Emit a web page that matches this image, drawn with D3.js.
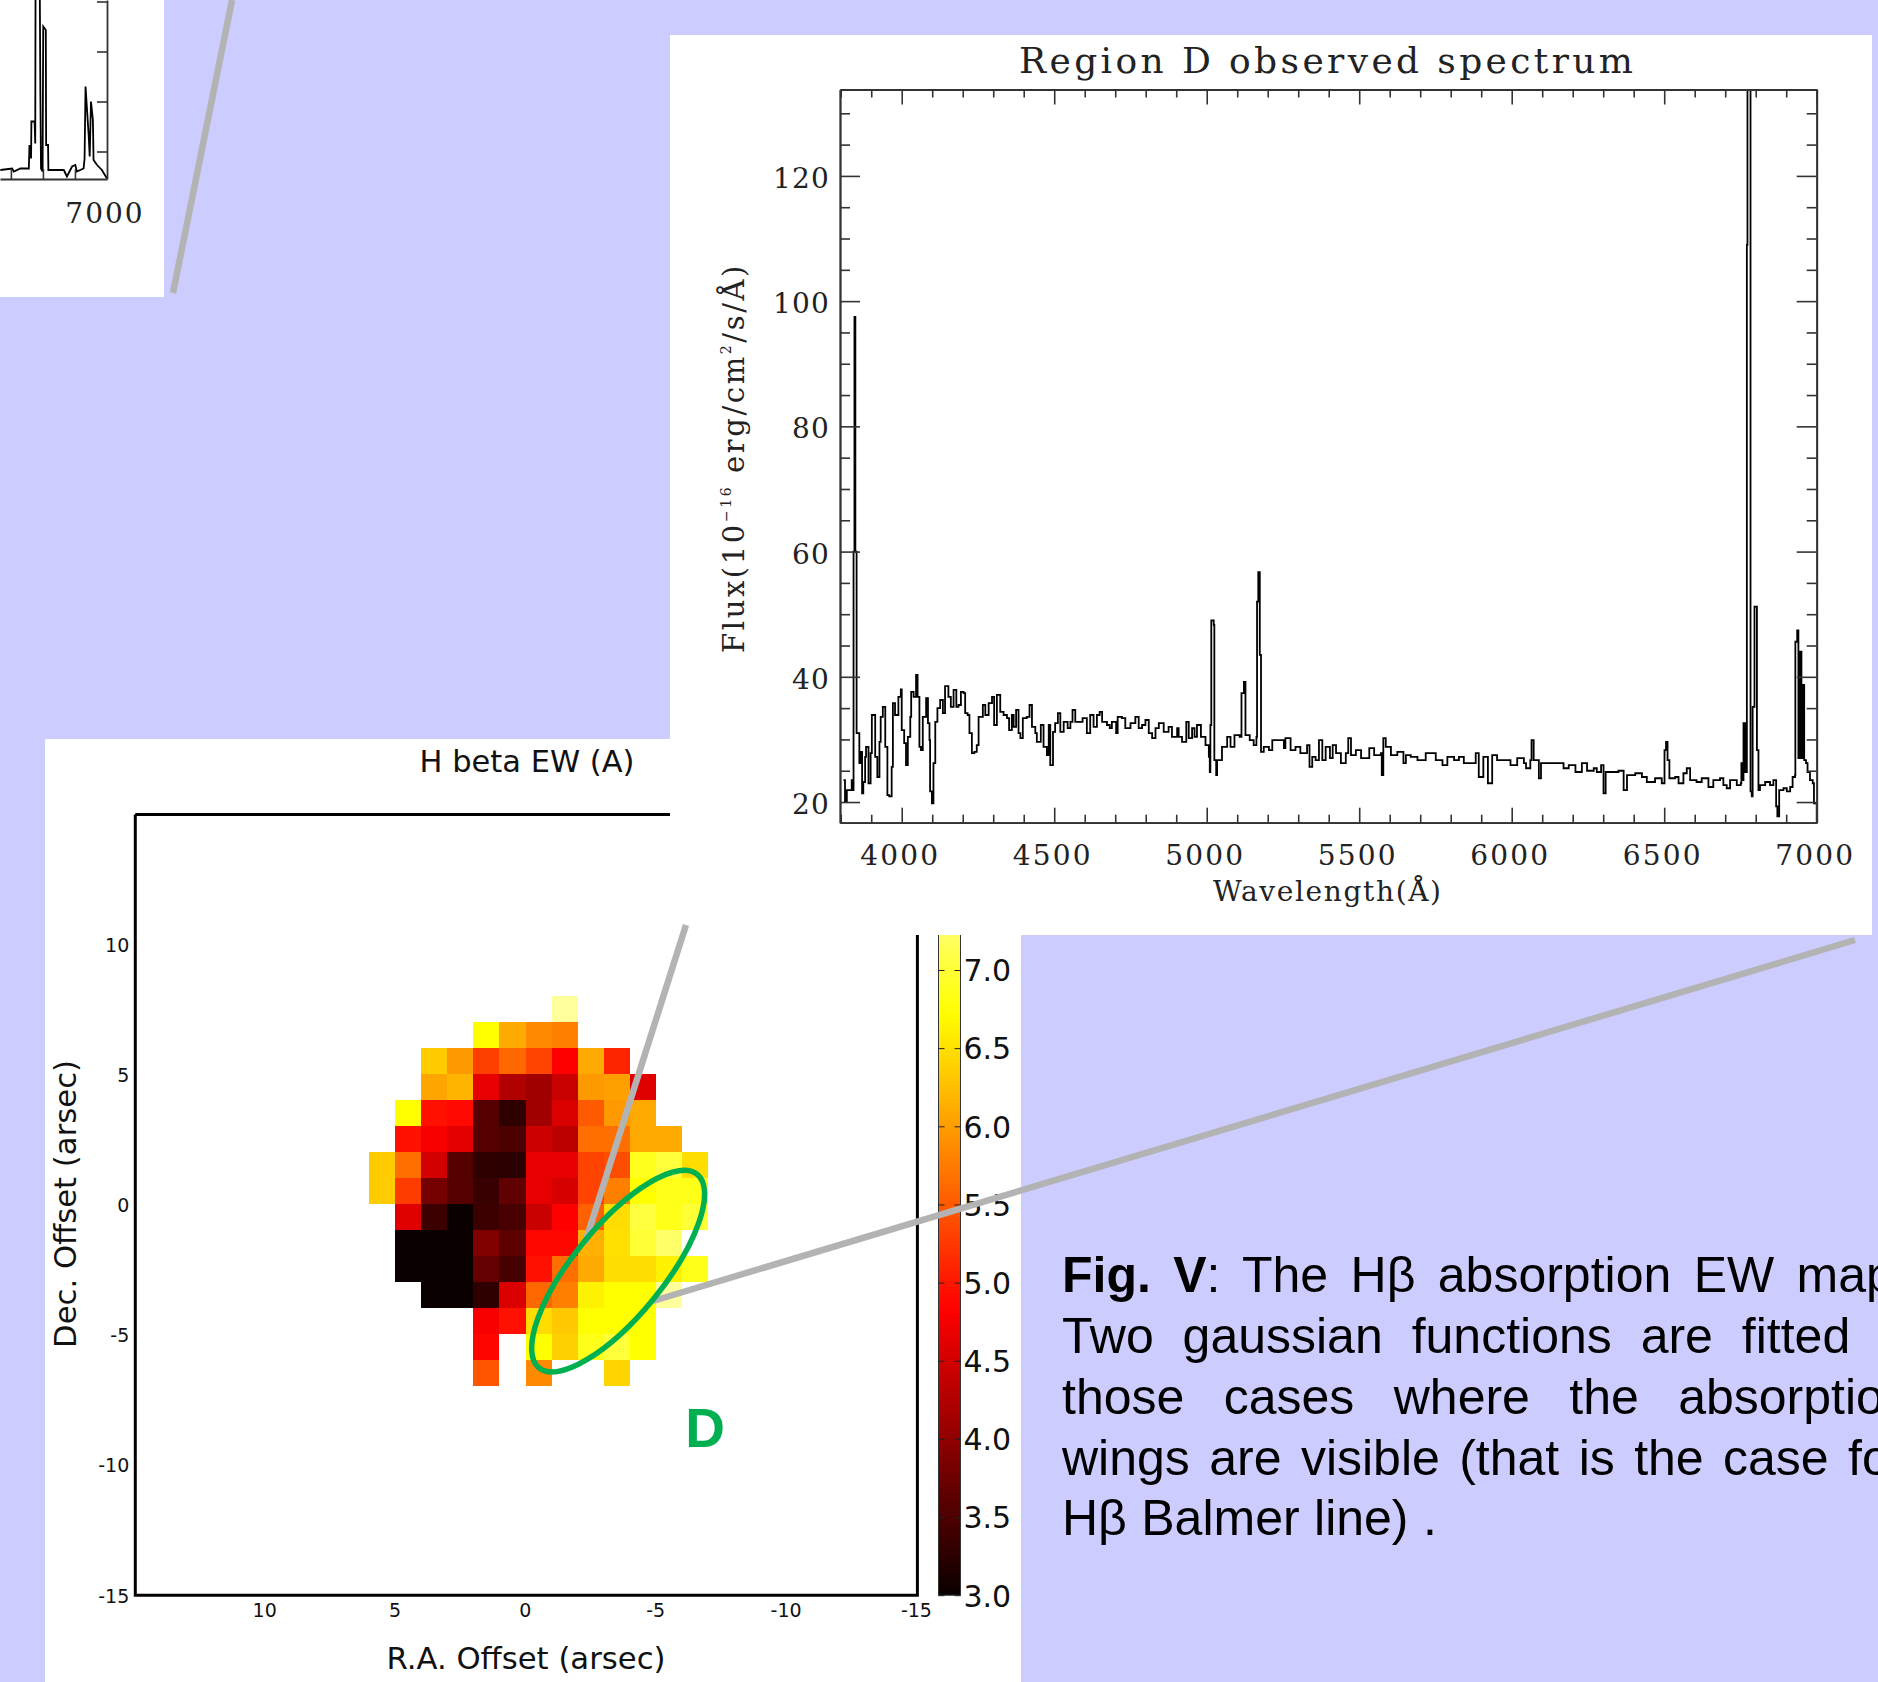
<!DOCTYPE html>
<html>
<head>
<meta charset="utf-8">
<script src="https://cdn.jsdelivr.net/npm/d3@7"></script>
<style>
html, body { margin: 0; padding: 0; background: #ccccff; overflow: hidden; }
svg { display: block; }
</style>
</head>
<body>
<div id="dataContainer"></div>
<script>
//region D spectrum
var waveA = [3809,3814,3820,3836,3841,3842,3845,3848,3852,3858,3861,3866,3870,3874,3880,3883,3891,3898,3902,3909,3913,3920,3927,3931,3938,3946,3953,3959,3967,3971,3978,3989,3997,4000,4008,4014,4020,4028,4031,4039,4047,4052,4058,4063,4069,4080,4086,4091,4093,4099,4104,4110,4117,4126,4135,4142,4153,4161,4170,4179,4186,4194,4203,4208,4216,4222,4230,4238,4246,4252,4266,4274,4285,4296,4303,4312,4323,4334,4345,4352,4361,4367,4375,4383,4389,4397,4410,4419,4427,4438,4443,4456,4465,4476,4482,4487,4496];
var fluxA = [23.5,20,21.9,23.5,21.9,60,97.5,60,31,31,26.2,28,21.4,23.2,27.2,28.8,23,27.8,33.9,33.9,27.2,24,29.6,33.6,35.2,28.8,21.1,20.9,25.6,35.8,33.9,36.8,38,31.5,29.4,25.9,30.4,33.6,37.6,36.8,40.3,36.8,28.8,28.3,33.6,36.6,32.6,29.9,21.7,19.8,26.2,32.8,35,36.3,34.2,38.5,36.8,35.2,37.9,35.2,35.5,37.6,37.4,34.2,33.9,31,27.8,28,29.1,33.6,35.5,33.9,35.8,36.8,32.3,37.1,34.4,33.9,33.4,31.5,33.9,32,34.7,31,30.2,33.4,33.6,35.5,32,31,29.6,32.3,28.8,27.5,32.3,25.9,31.2];
var waveB = [4503,4512,4520,4531,4544,4553,4560,4569,4586,4593,4607,4618,4629,4640,4649,4657,4673,4682,4689,4703,4708,4722,4733,4750,4766,4777,4788,4799,4810,4821,4832,4843,4859,4875,4886,4903,4908,4919,4933,4941,4952,4960,4968,4981,4996,5007,5010,5012,5015,5023,5025,5031,5034,5050,5067,5078,5091,5108,5114,5122,5127,5141,5154,5163,5165,5169,5174,5178,5187,5204,5215,5231,5253,5258,5275,5291,5307,5329,5337,5346,5357,5368,5379,5390,5404];
var fluxB = [32.6,34.2,31.2,32.8,31.8,32.8,34.7,32.8,32.8,33.4,31,33.9,32,33.9,34.4,32.8,32.3,31.8,32.8,31,33.6,33.4,31.8,32.6,33.6,31.8,32.3,33.1,31,30.2,31.8,32.6,31.2,32,30.4,31.8,30.4,29.6,32.8,30.2,31.8,30.4,32.3,30.4,29.1,27.2,24.8,32.3,49,48.3,26.7,24.3,26.7,28.8,30.4,28.8,30.7,30.4,37.4,39.2,30.7,29.9,29.1,30.4,52,56.7,43.5,28,28.8,28.3,29.9,29.9,28.6,30.2,28.3,28.8,27.8,29.1,25.6,27.2,26.7,29.9,26.7,28.8,27];
var waveC = [5413,5424,5440,5456,5464,5473,5489,5506,5516,5533,5549,5571,5574,5579,5587,5604,5625,5645,5653,5669,5691,5718,5734,5751,5773,5789,5811,5827,5843,5871,5882,5892,5907,5922,5936,5952,5974,5996,6018,6040,6047,6061,6065,6072,6089,6096,6116,6132,6154,6170,6187,6209,6230,6247,6269,6279,6293,6301,6308,6329,6350,6367,6378,6405,6427,6443,6470,6492,6501,6506,6511,6517,6536,6547,6563,6574,6585,6606,6623,6645,6661];
var fluxC = [29.1,27.8,26.2,27.8,30.2,27.5,28.3,27,27,28.6,27.5,27.8,24.3,30.2,28.8,27.5,28,26.2,27.5,27.2,26.7,27.8,27.8,26.7,25.9,27.2,26.7,27.2,26.2,26.2,27.8,24,27.2,23,27.5,26.7,26.7,25.9,27,26.2,25.4,26.7,29.9,26.7,23.8,26.2,26.2,26.2,26.2,25.4,25.9,24.8,26.2,25,25.4,24.8,25.9,21.4,24.8,24.8,25,21.9,24.3,24.6,24,23.2,23.8,23,28.3,29.6,26.7,23.8,24,23,24.6,25.4,23.5,23.2,23.8,22.4,23.5];
var waveD = [6683,6694,6705,6716,6727,6738,6751,6753,6757,6760,6765,6768,6770,6771,6773,6781,6783,6787,6790,6793,6796,6803,6804,6807,6809,6814,6831,6847,6858,6863,6867,6871,6877,6891,6902,6913,6921,6929,6930,6936,6940,6945,6950,6954,6959,6965,6970,6978,6987,6991,7000];
var fluxD = [23.8,22.7,22.2,23.5,23.5,22.7,23,26.2,23.5,32.6,24.8,32.6,24.8,109,134,134,21.7,20.9,35.2,35.2,51.2,51.2,28.3,28.3,21.9,22.7,23.2,22.7,23.5,23.5,19.3,17.7,21.9,22.2,21.7,22.4,24,24.3,45.6,47.4,27,44,27,38.7,26.7,26.2,24.8,23.5,23,19.8,16.9];

//tick values of the spectrum
var waveMajor = [4000,4500,5000,5500,6000,6500,7000];
var waveMinor = [3800,3900,4100,4200,4300,4400,4600,4700,4800,4900,5100,5200,5300,5400,5600,5700,5800,5900,6100,6200,6300,6400,6600,6700,6800,6900];
var fluxMajor = [20,40,60,80,100,120];
var fluxMinor = [25,30,35,45,50,55,65,70,75,85,90,95,105,110,115,125,130];

//the piece of the earlier spectrum at the top left corner
var insetWave = [6667,6704,6709,6730,6756,6758,6763,6764,6774,6776,6777,6790,6792,6794,6799,6800,6801,6809,6810,6816,6817,6865,6875,6891,6901,6906,6927,6930,6933,6943,6946,6950,6956,6958,6969,6984,7000];
var insetFlux = [16.3,16.6,16,16.6,16.6,21.3,18.6,26,26,21.6,55,55,31.6,16.6,16,31.6,45,44.3,21.3,21.3,16.3,16.3,15,17,17.3,16,16.6,18.6,33,23,19,30,26.3,18.3,17.3,16.3,14.6];
var insetFluxTicks = [20,30,40,50];
var insetWaveTicks = [6700,6800,6900];

//H beta EW map, left edge of each column and top edge of each row
var raEdges = [6,5,4,3,2,1,0,-1,-2,-3,-4,-5,-6];
var decEdges = [8,7,6,5,4,3,2,1,0,-1,-2,-3,-4,-5,-6];
var ewRows = [
	[null,null,null,null,null,null,null,7.5,null,null,null,null,null],
	[null,null,null,null,6.73,6.1,5.85,5.78,null,null,null,null,null],
	[null,null,6.35,5.97,5.3,5.6,5.33,4.83,6.1,5.1,null,null,null],
	[null,null,6.06,6.18,4.65,4.25,4.12,4.42,5.97,6.02,4.6,null,null],
	[null,6.73,4.95,4.9,3.56,3.28,4.12,4.55,5.5,5.97,6.08,null,null],
	[null,4.95,4.78,4.63,3.56,3.5,4.45,4.32,5.66,5.66,6.1,6.1,null],
	[6.35,5.66,4.5,3.56,3.28,3.25,4.65,4.65,5.33,5.4,6.88,7.03,6.48],
	[6.35,5.28,3.8,3.56,3.34,3.65,4.65,4.53,5.33,5.78,6.73,6.85,6.85],
	[null,4.6,3.38,3,3.38,3.47,4.42,4.83,5.55,6.48,7.05,6.85,7],
	[null,3,3,3,3.88,3.62,4.88,4.88,6.14,6.5,7,7.25,null],
	[null,3,3,3,3.68,3.44,4.95,5.66,6.1,6.48,6.48,6.63,6.85],
	[null,null,3,3,3.28,4.55,5.6,5.78,6.63,6.73,6.73,7.5,null],
	[null,null,null,null,4.78,4.95,6.48,6.32,6.73,6.73,6.73,null,null],
	[null,null,null,null,4.87,null,6.73,6.38,6.85,7.03,6.73,null,null],
	[null,null,null,null,5.46,null,5.85,null,null,6.42,null,null,null]
];
var mapTicks = [10,5,0,-5,-10,-15];
var mapYTicks = [10,5,0,-5,-10,-15];
var barTicks = [3,3.5,4,4.5,5,5.5,6,6.5,7];

//caption, one entry per line
var captionLines = [
	{ws: 8.5, parts: [["Fig. V", "bold"], [": The Hβ absorption EW map", "normal"]]},
	{ws: 15, parts: [["Two gaussian functions are fitted", "normal"]]},
	{ws: 25.5, parts: [["those cases where the absorption", "normal"]]},
	{ws: 5.5, parts: [["wings are visible (that is the case for", "normal"]]},
	{ws: 0.5, parts: [["Hβ Balmer line) .", "normal"]]}
];

var svg = d3.select("#dataContainer").append("svg")
	.attr("width", 1878)
	.attr("height", 1682);

svg.append("rect").attr("width", 1878).attr("height", 1682).attr("fill", "#ccccff");

//the matplotlib "hot" colours between 3 and 8
var hot = d3.scaleLinear()
	.domain([3, 4.83, 6.73, 8])
	.range(["#0a0000", "#ff0000", "#ffff00", "#ffffff"])
	.clamp(true);

//---------- map panel
svg.append("rect").attr("x", 45).attr("y", 739).attr("width", 976).attr("height", 943).attr("fill", "#fff");

var mx = d3.scaleLinear().domain([15, -15]).range([135.3, 917.4]);
var my = d3.scaleLinear().domain([15, -15]).range([814.4, 1595.2]);

var cells = [];
ewRows.forEach(function(row, i) {
	row.forEach(function(v, j) {
		if (v !== null) cells.push({ra: raEdges[j], dec: decEdges[i], v: v});
	});
});

svg.append("g").attr("transform", "translate(-0.8,-0.8)").selectAll("rect")
	.data(cells)
	.enter().append("rect")
	.attr("x", function(d) { return mx(d.ra); })
	.attr("y", function(d) { return my(d.dec); })
	.attr("width", function(d) { return mx(d.ra - 1) - mx(d.ra); })
	.attr("height", function(d) { return my(d.dec - 1) - my(d.dec); })
	.attr("fill", function(d) { return hot(d.v); })
	.attr("shape-rendering", "crispEdges");

var mapSans = "'DejaVu Sans', sans-serif";

var mapBottom = svg.append("g")
	.attr("transform", "translate(-1.5," + my(-15) + ")")
	.call(d3.axisBottom(mx).tickValues(mapTicks).tickSize(0).tickPadding(8).tickFormat(String));
var mapLeft = svg.append("g")
	.attr("transform", "translate(" + mx(15) + ",0.8)")
	.call(d3.axisLeft(my).tickValues(mapYTicks).tickSize(0).tickPadding(6).tickFormat(String));
[mapBottom, mapLeft].forEach(function(a) {
	a.select(".domain").remove();
	a.selectAll("text").attr("font-family", mapSans).attr("font-size", 19).attr("fill", "#111");
});

//frame of the map
svg.append("path")
	.attr("d", d3.line()([[mx(15), my(15)], [mx(-15), my(15)], [mx(-15), my(-15)], [mx(15), my(-15)], [mx(15), my(15)]]))
	.attr("fill", "none").attr("stroke", "#000").attr("stroke-width", 3);

svg.append("text").text("H beta EW (A)")
	.attr("x", 527).attr("y", 772).attr("text-anchor", "middle")
	.attr("font-family", mapSans).attr("font-size", 30.5).attr("fill", "#111");
svg.append("text").text("R.A. Offset (arsec)")
	.attr("x", 526).attr("y", 1668.5).attr("text-anchor", "middle")
	.attr("font-family", mapSans).attr("font-size", 30.7).attr("fill", "#111");
svg.append("text").text("Dec. Offset (arsec)")
	.attr("transform", "translate(76,1204) rotate(-90)").attr("text-anchor", "middle")
	.attr("font-family", mapSans).attr("font-size", 30.7).attr("fill", "#111");

//colour bar, the gradient stops come from the same colour scale
var by = d3.scaleLinear().domain([3, 7]).range([1595.2, 970]);
var grad = svg.append("linearGradient").attr("id", "hotBar")
	.attr("x1", 0).attr("y1", 1).attr("x2", 0).attr("y2", 0);
grad.selectAll("stop")
	.data(d3.range(3, 7.31, 0.1))
	.enter().append("stop")
	.attr("offset", function(d) { return (d - 3) / 4.3; })
	.attr("stop-color", function(d) { return hot(d); });
var barSide = d3.scaleLinear().domain([0, 1]).range([938.5, 960.5]);
svg.append("rect")
	.attr("x", barSide(0)).attr("y", by(7.3)).attr("width", barSide(1) - barSide(0)).attr("height", by(3) - by(7.3))
	.attr("fill", "url(#hotBar)").attr("stroke", "#333").attr("stroke-width", 1);
var barRight = svg.append("g")
	.attr("transform", "translate(" + barSide(1) + ",1.2)")
	.call(d3.axisRight(by).tickValues(barTicks).tickSize(-6).tickPadding(9).tickFormat(d3.format(".1f")));
barRight.select(".domain").remove();
barRight.selectAll("text").attr("font-family", mapSans).attr("font-size", 30).attr("fill", "#111").attr("x", 3);
barRight.selectAll("line").attr("stroke", "#222").attr("transform", "translate(0,-1.2)");
var barLeft = svg.append("g")
	.attr("transform", "translate(" + barSide(0) + ",0)")
	.call(d3.axisLeft(by).tickValues(barTicks).tickSize(-6).tickFormat(""));
barLeft.select(".domain").remove();
barLeft.selectAll("line").attr("stroke", "#222");

//---------- corner inset
svg.append("rect").attr("x", 0).attr("y", 0).attr("width", 164).attr("height", 297).attr("fill", "#fff");

var ix = d3.scaleLinear().domain([6666, 7000]).range([0, 107]);
var iy = d3.scaleLinear().domain([14.5, 50.3]).range([179, 0]);

svg.append("clipPath").attr("id", "insetClip").append("rect")
	.attr("x", 0).attr("y", 0).attr("width", 107).attr("height", 179);
svg.append("path")
	.datum(d3.zip(insetWave, insetFlux))
	.attr("clip-path", "url(#insetClip)")
	.attr("d", d3.line().x(function(d) { return ix(d[0]); }).y(function(d) { return iy(d[1]); }))
	.attr("fill", "none").attr("stroke", "#000").attr("stroke-width", 1.8);

var insetRight = svg.append("g").attr("transform", "translate(107,0)")
	.call(d3.axisLeft(iy).tickValues(insetFluxTicks).tickSize(10).tickSizeOuter(0).tickFormat(""));
var insetBottom = svg.append("g").attr("transform", "translate(0,179)")
	.call(d3.axisTop(ix).tickValues(insetWaveTicks).tickSize(10).tickSizeOuter(0).tickFormat(""));
[insetRight, insetBottom].forEach(function(a) {
	a.selectAll("line").attr("stroke", "#333").attr("stroke-width", 1.6);
	a.select(".domain").attr("stroke", "#333").attr("stroke-width", 1.8);
});
svg.append("text").text("7000")
	.attr("x", 105).attr("y", 223).attr("text-anchor", "middle")
	.attr("letter-spacing", 2)
	.attr("font-family", "'DejaVu Serif', serif").attr("font-size", 28).attr("fill", "#222");

//---------- spectrum panel
svg.append("rect").attr("x", 670).attr("y", 35).attr("width", 1202).attr("height", 900).attr("fill", "#fff");

var x = d3.scaleLinear().domain([3797.6, 7000]).range([840, 1816.7]);
var y = d3.scaleLinear().domain([16.7, 133.8]).range([822.7, 89.5]);

var spectrum = d3.zip(waveA.concat(waveB, waveC, waveD), fluxA.concat(fluxB, fluxC, fluxD));

svg.append("clipPath").attr("id", "specClip").append("rect")
	.attr("x", 840).attr("y", 89.5).attr("width", 976.7).attr("height", 733.2);
svg.append("path")
	.datum(spectrum)
	.attr("clip-path", "url(#specClip)")
	.attr("d", d3.line().x(function(d) { return x(d[0]); }).y(function(d) { return y(d[1]); }).curve(d3.curveStepAfter))
	.attr("fill", "none").attr("stroke", "#000").attr("stroke-width", 1.8);

function drawTicks(axisFn, scale, pos, major, minor, bigSize, smallSize, isX) {
	var at = isX ? "translate(0," + pos + ")" : "translate(" + pos + ",0)";
	var g = svg.append("g").attr("transform", at);
	g.append("g").call(axisFn(scale).tickValues(major).tickSize(bigSize).tickSizeOuter(0).tickFormat(""));
	g.append("g").call(axisFn(scale).tickValues(minor).tickSize(smallSize).tickSizeOuter(0).tickFormat(""));
	g.selectAll("line").attr("stroke", "#333").attr("stroke-width", 1.6);
	g.selectAll(".domain").attr("stroke", "#333").attr("stroke-width", 1.8);
}
drawTicks(d3.axisTop, x, y(16.7), waveMajor, waveMinor, 15, 8, true);
drawTicks(d3.axisBottom, x, y(133.8), waveMajor, waveMinor, 15, 8, true);
drawTicks(d3.axisRight, y, x(3797.6), fluxMajor, fluxMinor, 20, 10, false);
drawTicks(d3.axisLeft, y, x(7000), fluxMajor, fluxMinor, 20, 10, false);

var serif = "'DejaVu Serif', serif";
var waveLabels = svg.append("g").attr("transform", "translate(-2," + y(16.7) + ")")
	.call(d3.axisBottom(x).tickValues(waveMajor).tickSize(0).tickPadding(22).tickFormat(String));
var fluxLabels = svg.append("g").attr("transform", "translate(" + x(3797.6) + ",2.5)")
	.call(d3.axisLeft(y).tickValues(fluxMajor).tickSize(0).tickPadding(10).tickFormat(String));
waveLabels.selectAll("text").attr("letter-spacing", 2.2);
fluxLabels.selectAll("text").attr("letter-spacing", 1.2);
[waveLabels, fluxLabels].forEach(function(a) {
	a.select(".domain").remove();
	a.selectAll("text").attr("font-family", serif).attr("font-size", 28).attr("fill", "#222");
});

svg.append("text").text("Region D observed spectrum")
	.attr("x", 1326).attr("y", 73).attr("text-anchor", "middle")
	.attr("textLength", 614).attr("lengthAdjust", "spacing")
	.attr("font-family", serif).attr("font-size", 36).attr("fill", "#222");
svg.append("text").text("Wavelength(Å)")
	.attr("x", 1327).attr("y", 901).attr("text-anchor", "middle")
	.attr("textLength", 228).attr("lengthAdjust", "spacing")
	.attr("font-family", serif).attr("font-size", 28).attr("fill", "#222");

var fluxTitle = svg.append("text")
	.attr("transform", "translate(744,458) rotate(-90)").attr("text-anchor", "middle")
	.attr("letter-spacing", 2.6)
	.attr("font-family", serif).attr("font-size", 29).attr("fill", "#222");
fluxTitle.append("tspan").text("Flux(10");
fluxTitle.append("tspan").text("−16").attr("font-size", 14).attr("dy", -13);
fluxTitle.append("tspan").text(" erg/cm").attr("dy", 13);
fluxTitle.append("tspan").text("2").attr("font-size", 14).attr("dy", -13);
fluxTitle.append("tspan").text("/s/Å)").attr("dy", 13);

//---------- connector lines and the region ellipse
var grey = "#b3b3b3";
[[[232, 0], [173, 293]], [[1855, 940], [653, 1301]], [[686, 925], [585, 1243]]].forEach(function(seg) {
	svg.append("path").attr("d", d3.line()(seg))
		.attr("fill", "none").attr("stroke", grey).attr("stroke-width", 6.5);
});

svg.append("ellipse")
	.attr("rx", 125).attr("ry", 45)
	.attr("transform", "translate(" + mx(-3.52) + "," + my(-2.55) + ") rotate(-50.7)")
	.attr("fill", "none").attr("stroke", "#00b050").attr("stroke-width", 5.5);

svg.append("text").text("D")
	.attr("x", 705).attr("y", 1447).attr("text-anchor", "middle")
	.attr("font-family", "'Liberation Sans', sans-serif").attr("font-weight", "bold")
	.attr("font-size", 55).attr("fill", "#00b050");

//---------- caption
var baselines = [1292.3, 1353.3, 1414, 1475, 1535];
captionLines.forEach(function(line, i) {
	var t = svg.append("text")
		.attr("x", 1062).attr("y", baselines[i])
		.attr("word-spacing", line.ws)
		.attr("font-family", "'Liberation Sans', sans-serif").attr("font-size", 50).attr("fill", "#000");
	line.parts.forEach(function(p) {
		t.append("tspan").text(p[0]).attr("font-weight", p[1]);
	});
});
</script>
</body>
</html>
